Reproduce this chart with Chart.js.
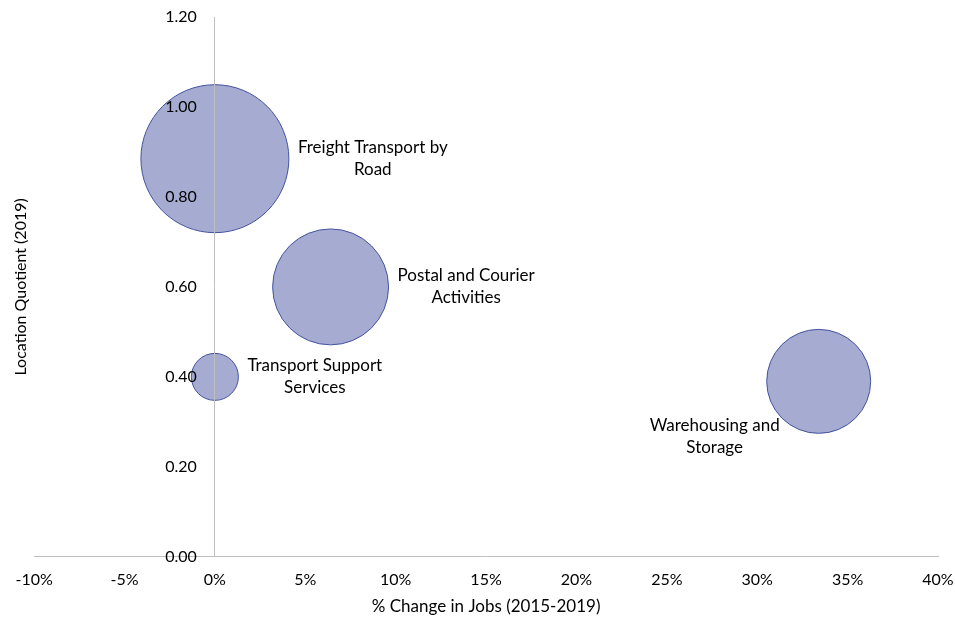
<!DOCTYPE html>
<html>
<head>
<meta charset="utf-8">
<script src="https://cdn.jsdelivr.net/npm/chart.js@4.4.0/dist/chart.umd.min.js"></script>
<style>
  html, body { margin: 0; padding: 0; background: #fff; }
  #wrap { width: 955px; height: 622px; }
</style>
</head>
<body>
<div id="wrap"><canvas id="bubble-chart"></canvas></div>
<script>
// industries, split over two lines like the original labels
var industries = [
  ["Freight Transport by", "Road"],
  ["Postal and Courier", "Activities"],
  ["Transport Support", "Services"],
  ["Warehousing and", "Storage"]
];
var jobChange = [0.0, 6.4, 0.0, 33.4];            // % change in jobs 2015-2019
var locationQuotient = [0.885, 0.60, 0.40, 0.39]; // LQ 2019
var employment = [11000, 6750, 1110, 5430];       // bubble size
var xTicks = [-10, -5, 0, 5, 10, 15, 20, 25, 30, 35, 40];
var yTicks = [0, 0.2, 0.4, 0.6, 0.8, 1.0, 1.2];

Chart.defaults.font.family = "Lato";
Chart.defaults.font.size = 16;
Chart.defaults.color = "#000";

var axisGrey = "#bfbfbf";
var maxRadius = 74;
var maxEmployment = Math.max.apply(null, employment);

function sizeToRadius(v) {
  // area proportional, like excel bubbles
  return maxRadius * Math.sqrt(v / maxEmployment);
}

var points = [];
for (var i = 0; i < industries.length; i++) {
  points.push({ x: jobChange[i], y: locationQuotient[i], r: sizeToRadius(employment[i]) });
}

var bubbleLabels = {
  id: "bubbleLabels",
  afterDatasetsDraw: function (chart) {
    var ctx = chart.ctx;
    var meta = chart.getDatasetMeta(0);
    ctx.save();
    ctx.font = "17px Lato";
    ctx.fillStyle = "#000";
    ctx.textAlign = "center";
    ctx.textBaseline = "middle";
    meta.data.forEach(function (pt, i) {
      var lines = industries[i];
      var r = pt.options.radius;
      var w = 0;
      lines.forEach(function (l) { w = Math.max(w, ctx.measureText(l).width); });
      var cx, cy;
      if (i === 3) {
        // this one sits below-left of its bubble
        cx = pt.x - 104;
        cy = pt.y + 55;
      } else {
        cx = pt.x + r + 9 + w / 2;
        cy = pt.y;
      }
      lines.forEach(function (l, j) {
        ctx.fillText(l, cx, cy + (j - (lines.length - 1) / 2) * 22);
      });
    });
    ctx.restore();
  }
};

new Chart(document.getElementById("bubble-chart"), {
  type: "bubble",
  data: {
    datasets: [{
      data: points,
      backgroundColor: "#a5abd1",
      borderColor: "#44539f",
      borderWidth: 1,
      hoverBackgroundColor: "#a5abd1",
      hoverBorderColor: "#44539f"
    }]
  },
  options: {
    responsive: true,
    maintainAspectRatio: false,
    animation: false,
    layout: { autoPadding: false, padding: { left: 6.4, right: 17, top: 17, bottom: 5.6 } },
    plugins: {
      legend: { display: false },
      tooltip: { enabled: false }
    },
    scales: {
      x: {
        type: "linear",
        position: "bottom",
        min: -10,
        max: 40,
        afterBuildTicks: function (axis) {
          axis.ticks = xTicks.map(function (v) { return { value: v }; });
        },
        afterFit: function (axis) { axis.paddingLeft = 0; axis.paddingRight = 0; },
        ticks: {
          padding: 13,
          callback: function (v) { return v + "%"; }
        },
        // only the 0% line is shown: it is the vertical axis line, drawn over the bubbles
        grid: {
          z: 1,
          drawTicks: false,
          lineWidth: 1,
          color: function (c) {
            return c.tick && c.tick.value === 0 ? axisGrey : "rgba(0,0,0,0)";
          }
        },
        border: { color: axisGrey, width: 1, z: 1 },
        title: {
          display: true,
          text: "% Change in Jobs (2015-2019)",
          font: { size: 17 },
          padding: { top: -6, bottom: 0 }
        }
      },
      y: {
        type: "linear",
        position: { x: -1 },   // labels sit just left of the 0% line
        min: 0,
        max: 1.2,
        afterBuildTicks: function (axis) {
          axis.ticks = yTicks.map(function (v) { return { value: v }; });
        },
        afterFit: function (axis) { axis.paddingTop = 0; axis.paddingBottom = 0; },
        ticks: {
          z: 1,
          callback: function (v) { return v.toFixed(2); }
        },
        grid: { display: false, drawTicks: false },
        border: { display: false }
      },
      yTitle: {
        type: "linear",
        position: "left",
        ticks: { display: false },
        grid: { display: false, drawTicks: false },
        border: { display: false },
        title: {
          display: true,
          text: "Location Quotient (2019)",
          font: { size: 16 },
          padding: { top: 4.5, bottom: 4 }
        }
      }
    }
  },
  plugins: [bubbleLabels]
});
</script>
</body>
</html>
